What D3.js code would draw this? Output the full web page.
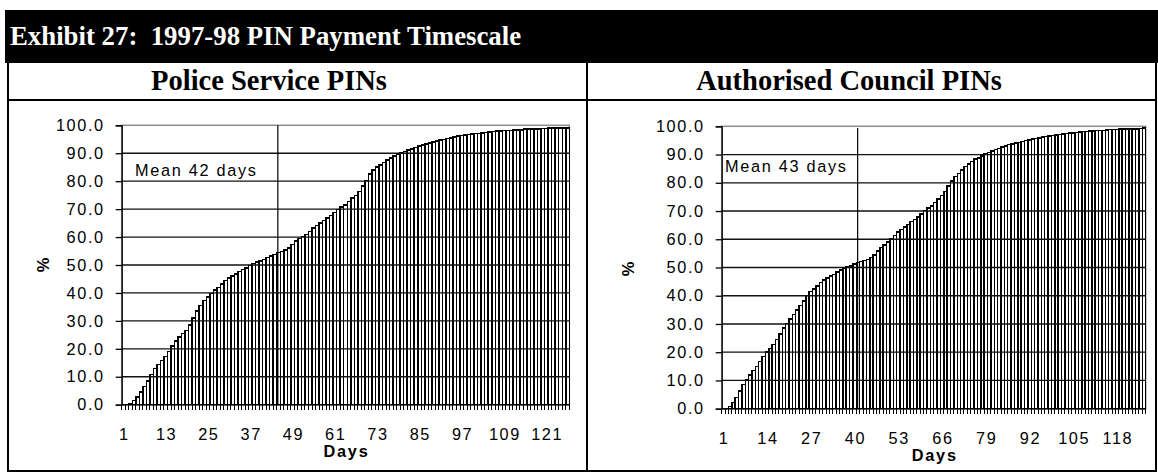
<!DOCTYPE html>
<html><head><meta charset="utf-8">
<script src="https://cdn.jsdelivr.net/npm/d3@7"></script>
<style>
body{margin:0;background:#fff}
svg{display:block}
text{font-family:"Liberation Sans",Arial,sans-serif}
</style>
</head><body>
<svg id="c" width="1158" height="473"></svg>
<script>
// ---------- data ----------
const titleText = "Exhibit 27:  1997-98 PIN Payment Timescale";
const panelTitles = ["Police Service PINs", "Authorised Council PINs"];
const yTicks = [0, 10, 20, 30, 40, 50, 60, 70, 80, 90, 100];
const xAxisTitle = "Days";
const yAxisTitle = "%";

const policeValues = [
  0.0, 0.0, 0.5, 1.5, 2.8, 4.5, 6.5, 8.5, 10.8, 13.0,
  14.3, 15.8, 17.3, 19.0, 21.0, 22.8, 24.3, 25.5, 26.6, 28.5,
  31.0, 33.5, 35.5, 37.3, 38.6, 39.8, 41.0, 42.0, 43.2, 44.5,
  45.3, 46.0, 46.8, 47.6, 48.3, 49.0, 49.8, 50.5, 51.0, 51.5,
  52.0, 52.6, 53.3, 53.8, 54.4, 54.9, 55.4, 56.0, 57.3, 58.6,
  59.4, 60.2, 61.0, 62.0, 63.2, 64.2, 65.0, 66.0, 66.8, 67.8,
  68.8, 69.8, 70.8, 71.5, 72.8, 74.0, 74.8, 76.3, 78.3, 80.3,
  82.5, 84.0, 85.0, 85.8, 86.6, 87.5, 88.3, 89.0, 89.8, 90.3,
  90.7, 91.1, 91.6, 92.1, 92.6, 93.0, 93.3, 93.7, 94.1, 94.4,
  94.7, 95.0, 95.3, 95.5, 95.8, 96.1, 96.3, 96.5, 96.7, 96.9,
  97.0, 97.1, 97.2, 97.4, 97.6, 97.8, 97.9, 98.0, 98.1, 98.2,
  98.2, 98.3, 98.3, 98.4, 98.6, 98.7, 98.7, 98.7, 98.7, 98.8,
  98.8, 99.0, 99.0, 99.0, 99.1, 99.1, 99.1
];
const councilValues = [
  0.0, 0.0, 0.8, 2.2, 4.0, 6.2, 8.5, 10.2, 12.0, 13.5,
  15.0, 16.8, 18.5, 20.0, 21.3, 22.8, 24.5, 26.5, 28.5, 30.2,
  31.8, 33.3, 35.0, 36.5, 38.2, 40.0, 41.5, 42.3, 43.5, 44.6,
  45.5, 46.3, 47.0, 47.6, 48.4, 49.2, 49.8, 50.2, 50.6, 51.2,
  51.8, 52.1, 52.4, 52.8, 53.5, 54.5, 55.8, 57.0, 58.0, 59.0,
  60.2, 61.3, 62.5, 63.4, 64.3, 65.3, 66.3, 67.0, 67.8, 69.0,
  70.2, 71.0, 71.8, 73.0, 74.2, 75.5, 77.0, 78.8, 80.7, 82.3,
  83.3, 84.5, 85.7, 86.6, 87.5, 88.4, 88.8, 89.5, 90.2, 90.7,
  91.2, 91.7, 92.1, 92.6, 93.1, 93.5, 93.7, 94.0, 94.3, 94.7,
  95.0, 95.2, 95.5, 95.7, 95.9, 96.2, 96.4, 96.6, 96.8, 97.0,
  97.1, 97.3, 97.4, 97.6, 97.7, 97.8, 98.0, 98.1, 98.1, 98.3,
  98.4, 98.5, 98.6, 98.6, 98.7, 98.8, 98.9, 98.9, 99.0, 99.0,
  99.0, 99.1, 99.1, 99.1, 99.2, 99.4
];
const policeTickLabels = [1, 13, 25, 37, 49, 61, 73, 85, 97, 109, 121];
const councilTickLabels = [1, 14, 27, 40, 53, 66, 79, 92, 105, 118];
const meanLabels = ["Mean 42 days", "Mean 43 days"];
const meanLineDays = [44.8, 40.9];

// ---------- layout ----------
const svg = d3.select("#c");
const FONT_LS = "1.6px";

// title bar
svg.append("rect").attr("x", 5).attr("y", 10).attr("width", 1153).attr("height", 53).attr("fill", "#000");
svg.append("text").attr("x", 10).attr("y", 45)
  .style("font-family", '"Liberation Serif","Times New Roman",serif')
  .style("font-weight", "bold").style("font-size", "26.8px").style("white-space", "pre")
  .attr("fill", "#fff").text(titleText);

// frame
const frame = svg.append("g").attr("fill", "none").attr("stroke", "#000").attr("stroke-width", 2);
frame.append("line").attr("x1", 8).attr("x2", 8).attr("y1", 63).attr("y2", 471);
frame.append("line").attr("x1", 1156).attr("x2", 1156).attr("y1", 63).attr("y2", 471);
frame.append("line").attr("x1", 7).attr("x2", 1157).attr("y1", 471).attr("y2", 471);
frame.append("line").attr("x1", 7).attr("x2", 1157).attr("y1", 100).attr("y2", 100);
frame.append("line").attr("x1", 587).attr("x2", 587).attr("y1", 63).attr("y2", 471);

const panels = [
  { title: panelTitles[0], titleCx: 269, values: policeValues, ticks: policeTickLabels,
    x0: 121.7, x1: 569.3, yTop: 125.3, yZero: 404.7, pctX: 44, pctY: 265,
    meanLabel: meanLabels[0], meanDay: meanLineDays[0], meanTop: 125.3, meanTx: 135, meanTy: 176 },
  { title: panelTitles[1], titleCx: 849, values: councilValues, ticks: councilTickLabels,
    x0: 721.7, x1: 1145.7, yTop: 126.3, yZero: 408.7, pctX: 629, pctY: 269,
    meanLabel: meanLabels[1], meanDay: meanLineDays[1], meanTop: 128, meanTx: 725, meanTy: 172 }
];

panels.forEach(p => {
  // panel header
  svg.append("text").attr("x", p.titleCx).attr("y", 90).attr("text-anchor", "middle")
    .style("font-family", '"Liberation Serif","Times New Roman",serif')
    .style("font-weight", "bold").style("font-size", "28.5px").text(p.title);

  const days = d3.range(1, p.values.length + 1);
  const x = d3.scaleBand().domain(days).range([p.x0, p.x1]).padding(0);
  const xl = d3.scaleLinear().domain([0.5, p.values.length + 0.5]).range([p.x0, p.x1]);
  const y = d3.scaleLinear().domain([0, 100]).range([p.yZero, p.yTop]);
  const g = svg.append("g");

  // plot area border (grey)
  g.append("rect").attr("x", p.x0).attr("y", y(100)).attr("width", p.x1 - p.x0).attr("height", y(0) - y(100))
    .attr("fill", "none").attr("stroke", "#8c8c8c").attr("stroke-width", 1.5);

  // bars
  g.append("g").selectAll("rect").data(p.values).join("rect")
    .attr("x", (v, i) => x(days[i]))
    .attr("width", x.bandwidth())
    .attr("y", v => y(v))
    .attr("height", v => y(0) - y(v))
    .attr("fill", "#fff").attr("stroke", "#000").attr("stroke-width", 1.5)
    .attr("shape-rendering", "crispEdges");

  // gridlines
  g.append("g").selectAll("line").data(yTicks.filter(t => t > 0 && t < 100)).join("line")
    .attr("x1", p.x0).attr("x2", p.x1).attr("y1", d => y(d)).attr("y2", d => y(d))
    .attr("stroke", "#111").attr("stroke-width", 1.3);

  // y axis
  const ya = g.append("g").attr("transform", `translate(${p.x0},0)`)
    .call(d3.axisLeft(y).tickValues(yTicks).tickFormat(d3.format(".1f")).tickSize(6).tickPadding(11));
  ya.select(".domain").attr("stroke", "#000").attr("stroke-width", 1.3);
  ya.selectAll(".tick line").attr("stroke", "#000").attr("stroke-width", 1.3);
  ya.selectAll("text").style("font-size", "16.3px").style("letter-spacing", FONT_LS)
    .attr("fill", "#000").attr("font-family", null);

  // x axis: line + per-category ticks at boundaries
  g.append("line").attr("x1", p.x0).attr("x2", p.x1).attr("y1", y(0)).attr("y2", y(0))
    .attr("stroke", "#000").attr("stroke-width", 1.5);
  g.append("g").selectAll("line").data(d3.range(0, p.values.length + 1)).join("line")
    .attr("x1", i => xl(i + 0.5)).attr("x2", i => xl(i + 0.5))
    .attr("y1", y(0)).attr("y2", y(0) + 5)
    .attr("stroke", "#000").attr("stroke-width", 1).attr("shape-rendering", "crispEdges");
  g.append("g").selectAll("text").data(p.ticks).join("text")
    .attr("x", d => x(d) + x.bandwidth() / 2 + 0.8)
    .attr("y", y(0) + 35.5).attr("text-anchor", "middle")
    .style("font-size", "16.3px").style("letter-spacing", FONT_LS).text(d => d);

  // axis titles
  g.append("text").attr("x", (p.x0 + p.x1) / 2 + 1).attr("y", y(0) + 52.5).attr("text-anchor", "middle")
    .style("font-size", "16.3px").style("font-weight", "bold").style("letter-spacing", "1.8px").text(xAxisTitle);
  g.append("text").attr("transform", `translate(${p.pctX + 5},${p.pctY}) rotate(-90)`)
    .attr("text-anchor", "middle")
    .style("font-size", "16.5px").style("font-weight", "bold").text(yAxisTitle);

  // mean line + label
  g.append("line").attr("x1", xl(p.meanDay)).attr("x2", xl(p.meanDay))
    .attr("y1", p.meanTop).attr("y2", y(0)).attr("stroke", "#000").attr("stroke-width", 1.2);
  g.append("text").attr("x", p.meanTx).attr("y", p.meanTy)
    .style("font-size", "16.3px").style("letter-spacing", "1.7px").text(p.meanLabel);
});
</script>
</body></html>
